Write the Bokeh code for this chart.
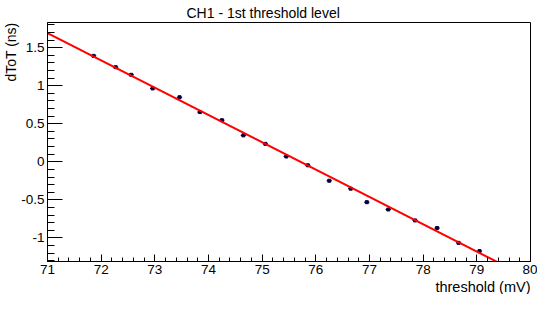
from bokeh.plotting import figure
from bokeh.models import Range1d, SingleIntervalTicker, CustomJSTickFormatter, Title
from bokeh.embed import file_html
from bokeh.resources import INLINE

# ---- data ----
threshold_mv = [71.86, 72.27, 72.56, 72.96, 73.46, 73.84, 74.25, 74.65, 75.06,
                75.45, 75.85, 76.25, 76.65, 76.95, 77.35, 77.85, 78.26, 78.66, 79.05]
dtot_ns = [1.393, 1.244, 1.144, 0.965, 0.849, 0.654, 0.547, 0.348, 0.236,
           0.070, -0.046, -0.249, -0.353, -0.531, -0.627, -0.771, -0.871, -1.066, -1.174]
threshold_err = [0.05] * len(threshold_mv)
dtot_err = [0.005] * len(threshold_mv)

fit_p0 = 27.188      # intercept of linear fit (ns)
fit_p1 = -0.3591     # slope of linear fit (ns/mV)
fit_range = [71.0, 79.45]

title_text = "CH1 - 1st threshold level"
x_title = "threshold (mV)"
y_title = "dToT (ns)"

X_MIN, X_MAX = 71.0, 80.0
Y_MIN, Y_MAX = -1.311, 1.832

FONT = "Liberation Sans"

p = figure(width=537, height=294, output_backend="svg", toolbar_location=None,
           x_range=Range1d(X_MIN, X_MAX), y_range=Range1d(Y_MIN, Y_MAX),
           min_border_left=0, min_border_right=7, min_border_top=0, min_border_bottom=0)
p.background_fill_color = "white"
p.border_fill_color = "white"
p.outline_line_color = "black"
p.outline_line_width = 1
p.xgrid.visible = False
p.ygrid.visible = False

# axes ROOT style: ticks inside
p.xaxis.ticker = SingleIntervalTicker(interval=1, num_minor_ticks=5)
p.yaxis.ticker = SingleIntervalTicker(interval=0.5, num_minor_ticks=5)
fmt = CustomJSTickFormatter(code="return String(Math.round(tick*10)/10);")
p.xaxis.formatter = fmt
p.yaxis.formatter = fmt
for ax in (p.xaxis[0], p.yaxis[0]):
    ax.major_tick_out = 0
    ax.minor_tick_out = 0
    ax.axis_line_color = "black"
    ax.major_tick_line_color = "black"
    ax.minor_tick_line_color = "black"
    ax.major_label_text_color = "black"
    ax.major_label_text_font = FONT
    ax.major_label_text_font_size = "13.5px"
    ax.major_label_standoff = 3
p.xaxis.major_tick_in = 7
p.xaxis.minor_tick_in = 4
p.yaxis.major_tick_in = 15
p.yaxis.minor_tick_in = 7

# error bars and points
xs0 = [x - e for x, e in zip(threshold_mv, threshold_err)]
xs1 = [x + e for x, e in zip(threshold_mv, threshold_err)]
ys0 = [y - e for y, e in zip(dtot_ns, dtot_err)]
ys1 = [y + e for y, e in zip(dtot_ns, dtot_err)]
p.segment(x0=xs0, x1=xs1, y0=dtot_ns, y1=dtot_ns, line_color="#000033", line_width=1)
p.segment(x0=threshold_mv, x1=threshold_mv, y0=ys0, y1=ys1, line_color="#000033", line_width=1)
p.scatter(threshold_mv, dtot_ns, marker="square", size=3, fill_color="#000040",
          line_color="#000040")

# fit line
fit_y = [fit_p0 + fit_p1 * x for x in fit_range]
p.line(fit_range, fit_y, line_color="#ff0000", line_width=2)

# texts as layout titles
t_top = Title(text=title_text, align="left", offset=139, standoff=4,
              text_font=FONT, text_font_size="14px", text_font_style="normal",
              text_color="black")
p.add_layout(t_top, "above")
t_x = Title(text=x_title, align="right", standoff=0, text_line_height=0.8,
            text_font=FONT, text_font_size="14.5px", text_font_style="normal",
            text_color="black")
p.add_layout(t_x, "below")
t_y = Title(text=y_title, align="right", standoff=0,
            text_font=FONT, text_font_size="14px", text_font_style="normal",
            text_color="black")
p.add_layout(t_y, "left")

open("out.html", "w").write(file_html(p, INLINE))
